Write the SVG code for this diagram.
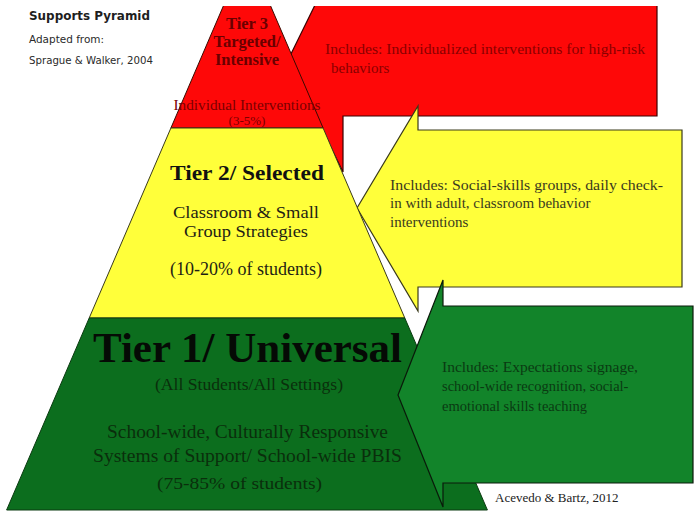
<svg xmlns="http://www.w3.org/2000/svg" width="695" height="512" viewBox="0 0 695 512">
<style>
.ser{font-family:"Liberation Serif","Times New Roman",serif}
.sans{font-family:"DejaVu Sans","Liberation Sans",sans-serif}
.mid{text-anchor:middle}
.b{font-weight:bold}
</style>
<defs>
<clipPath id="clip"><rect x="0" y="6" width="695" height="506"/></clipPath>
</defs>
<rect width="695" height="512" fill="#ffffff"/>
<g id="title">
<text class="sans b" x="29" y="20" font-size="12" fill="#1e1e1e" textLength="121" lengthAdjust="spacingAndGlyphs">Supports Pyramid</text>
<text class="sans" x="29" y="43" font-size="10" fill="#2a2a2a" textLength="75" lengthAdjust="spacingAndGlyphs">Adapted from:</text>
<text class="sans" x="29" y="64" font-size="10" fill="#2a2a2a" textLength="124" lengthAdjust="spacingAndGlyphs">Sprague &amp; Walker, 2004</text>
</g>
<g clip-path="url(#clip)">
<g id="callout-tier3">
<path d="M343,-10 L343,-52 L288,60 L343,172 L343,116 L657,116 L657,-10 Z" fill="#fe0808" stroke="#3a0000" stroke-width="1.2"/>
<text class="ser" x="325" y="54" font-size="15" fill="#8a0000" textLength="320" lengthAdjust="spacingAndGlyphs">Includes: Individualized interventions for high-risk</text>
<text class="ser" x="331" y="73" font-size="15" fill="#8a0000">behaviors</text>
</g>
<g id="callout-tier2">
<path d="M418,130 L418,106 L357,208 L418,311 L418,287 L682,287 L682,130 Z" fill="#ffff3a" stroke="#3a3a1a" stroke-width="1.2"/>
<text class="ser" x="390" y="190" font-size="15" fill="#3a3a1e" textLength="273" lengthAdjust="spacingAndGlyphs">Includes: Social-skills groups, daily check-</text>
<text class="ser" x="390" y="208" font-size="15" fill="#3a3a1e">in with adult, classroom behavior</text>
<text class="ser" x="390" y="227" font-size="15" fill="#3a3a1e">interventions</text>
</g>
<g id="tier3">
<polygon points="247,-49 323.1,128 170.9,128" fill="#fe0808" stroke="#3a0a00" stroke-width="1"/>
<text class="ser b mid" x="247" y="29" font-size="16.5" fill="#6a0000">Tier 3</text>
<text class="ser b mid" x="247" y="47" font-size="16.5" fill="#6a0000">Targeted/</text>
<text class="ser b mid" x="247" y="65" font-size="16.5" fill="#6a0000">Intensive</text>
<text class="ser mid" x="247" y="110" font-size="14" fill="#7a0000" textLength="147" lengthAdjust="spacingAndGlyphs">Individual Interventions</text>
<text class="ser mid" x="247" y="125" font-size="13" fill="#7a0000">(3-5%)</text>
</g>
<g id="tier2">
<polygon points="170.9,128 323.1,128 404.8,318 89.2,318" fill="#ffff3a" stroke="#3a3a1a" stroke-width="1"/>
<text class="ser b mid" x="247" y="180" font-size="22" fill="#111111" textLength="154" lengthAdjust="spacingAndGlyphs">Tier 2/ Selected</text>
<text class="ser mid" x="246" y="218" font-size="17" fill="#1e1e14" textLength="146" lengthAdjust="spacingAndGlyphs">Classroom &amp; Small</text>
<text class="ser mid" x="246" y="237" font-size="17" fill="#1e1e14" textLength="124" lengthAdjust="spacingAndGlyphs">Group Strategies</text>
<text class="ser mid" x="246" y="275" font-size="18" fill="#1e1e14">(10-20% of students)</text>
</g>
<g id="tier1">
<polygon points="89.2,318 404.8,318 487.4,510 6.6,510" fill="#0c6e1e" stroke="#0a3a10" stroke-width="1"/>
<text class="ser b mid" x="247.5" y="362" font-size="43" fill="#050a05" textLength="309" lengthAdjust="spacingAndGlyphs">Tier 1/ Universal</text>
<text class="ser mid" x="249" y="390" font-size="17" fill="#0a2e0c" textLength="188" lengthAdjust="spacingAndGlyphs">(All Students/All Settings)</text>
<text class="ser mid" x="247.5" y="438" font-size="18.5" fill="#0a2e0c" textLength="281" lengthAdjust="spacingAndGlyphs">School-wide, Culturally Responsive</text>
<text class="ser mid" x="247.5" y="462" font-size="18.5" fill="#0a2e0c" textLength="309" lengthAdjust="spacingAndGlyphs">Systems of Support/ School-wide PBIS</text>
<text class="ser mid" x="239.5" y="489" font-size="17" fill="#0a2e0c" textLength="165" lengthAdjust="spacingAndGlyphs">(75-85% of students)</text>
</g>
<g id="callout-tier1">
<path d="M443,306 L443,280 L398,395 L443,507 L443,483 L693,483 L693,306 Z" fill="#12842a" stroke="#0a1a0a" stroke-width="1.2"/>
<text class="ser" x="442" y="372" font-size="14.5" fill="#0a3a12" textLength="196" lengthAdjust="spacingAndGlyphs">Includes: Expectations signage,</text>
<text class="ser" x="442" y="391" font-size="14.5" fill="#0a3a12">school-wide recognition, social-</text>
<text class="ser" x="442" y="411" font-size="14.5" fill="#0a3a12">emotional skills teaching</text>
</g>
</g>
<g id="credit">
<text class="ser" x="495" y="502" font-size="13" fill="#222222">Acevedo &amp; Bartz, 2012</text>
</g>
<g id="connectors"></g>
</svg>
